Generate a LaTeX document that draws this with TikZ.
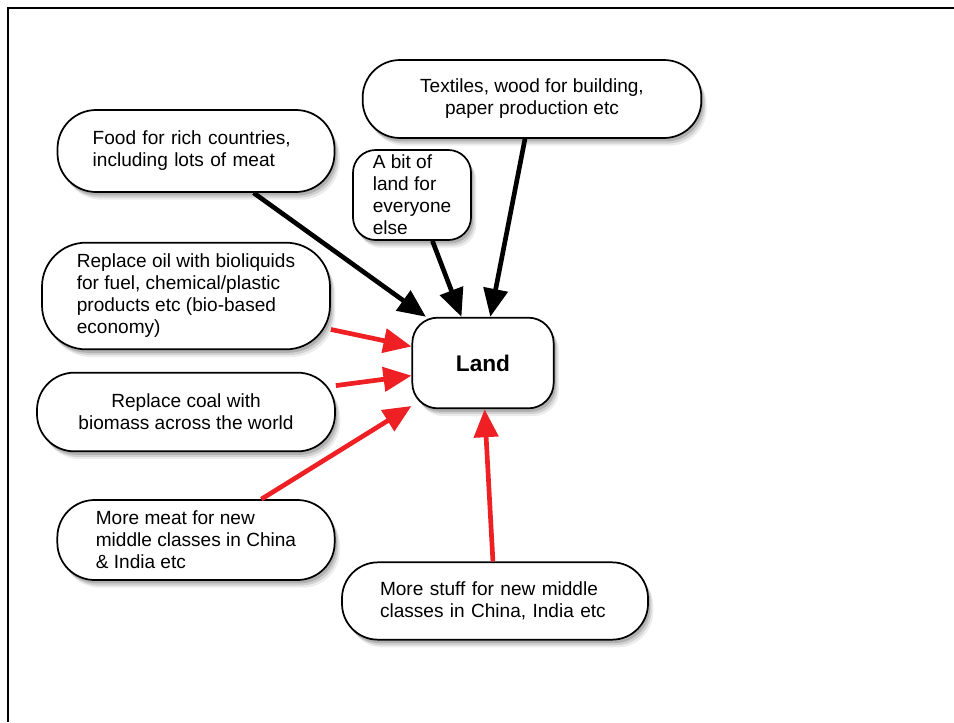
\documentclass[tikz,border=0pt]{standalone}
\usepackage{fontspec}
\setmainfont{Liberation Sans}
\usetikzlibrary{arrows.meta,shadows}

\definecolor{arrowred}{RGB}{238,32,36}

\tikzset{
	bubble/.style = {draw, line width=1.3pt, fill=white, rounded corners=#1, align=left, inner sep=0pt,
		drop shadow={shadow xshift=4pt, shadow yshift=-5.8pt, opacity=.15},
		drop shadow={shadow xshift=2.8pt, shadow yshift=-4.2pt, opacity=.25},
		drop shadow={shadow xshift=1.6pt, shadow yshift=-2.6pt, opacity=.4},
		font=\fontsize{14.3}{16.5}\selectfont},
	bubble/.default = 25pt,
	feed/.style = {line width=3.5pt, -{Triangle[length=21pt,width=18pt]}},
}

\begin{document}
\begin{tikzpicture}[x=0.75pt, y=-0.75pt]
	\useasboundingbox (0,0) rectangle (954,722);
	\draw [line width=2.2pt] (8,722) -- (8,8) -- (954,8);

	\node [bubble=29pt, minimum width=207.75pt, minimum height=61.5pt, text width=155pt] (food) at (196,151) {Food for rich countries,\\including lots of meat};
	\node [bubble=28pt, minimum width=254pt, minimum height=58.5pt, align=center] (textiles) at (532,99) {Textiles, wood for building,\\paper production etc};
	\node [bubble=17pt, minimum width=88.5pt, minimum height=67.5pt] (abit) at (412,195) {A bit of\\land for\\everyone\\else};
	\node [bubble=33pt, minimum width=216pt, minimum height=80pt] (oil) at (186,296) {Replace oil with bioliquids\\for fuel, chemical/plastic\\products etc (bio-based\\economy)};
	\node [bubble=28pt, minimum width=223.5pt, minimum height=59pt, align=center] (coal) at (186,412) {Replace coal with\\biomass across the world};
	\node [bubble=28pt, minimum width=208pt, minimum height=60pt] (meat) at (196,540) {More meat for new\\middle classes in China\\\& India etc};
	\node [bubble=27pt, minimum width=229.5pt, minimum height=58pt, text width=172.5pt] (stuff) at (495,601) {More stuff for new middle\\classes in China, India etc};
	\node [bubble=19pt, minimum width=106pt, minimum height=68pt, align=center, font=\bfseries\fontsize{17}{20}\selectfont] (land) at (483,363) {Land};

	\draw [feed] (food.-36) -- (land.141);
	\draw [feed] (abit.-66) -- (land.115);
	\draw [feed] (textiles.-100) -- (land.81);
	\draw [feed, arrowred] (oil.-13) -- (land.167);
	\draw [feed, arrowred] (coal.10) -- (land.-170);
	\draw [feed, arrowred] (meat.32) -- (land.-149);
	\draw [feed, arrowred] (stuff.93) -- (land.-88);
\end{tikzpicture}
\end{document}
